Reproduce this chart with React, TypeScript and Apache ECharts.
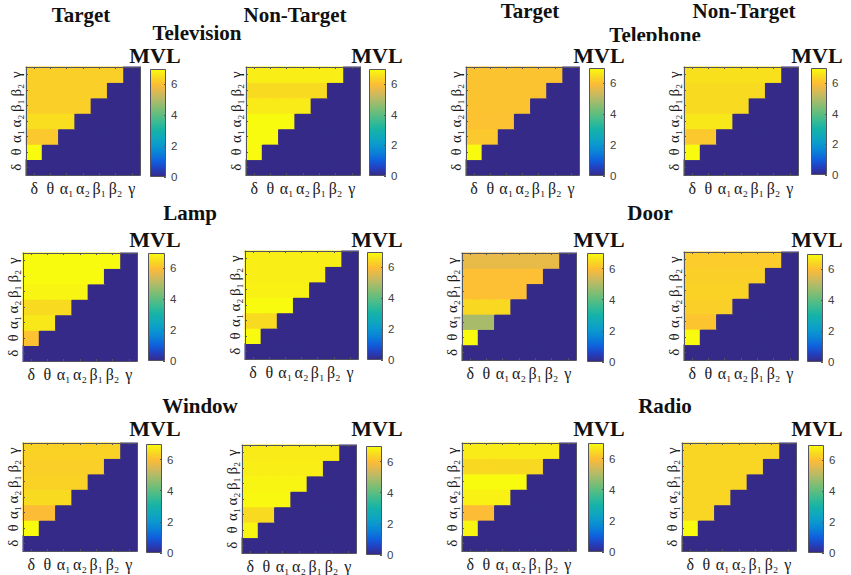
import React, { useEffect, useRef } from "react";
import * as echarts from "echarts";

const bands = ["δ", "θ", "α₁", "α₂", "β₁", "β₂", "γ"];
const barTicks = [0, 2, 4, 6];

// value of each row, bottom to top: θ α₁ α₂ β₁ β₂ γ
const televisionTarget = [7, 6.2, 6.55, 6.3, 6.3, 6.3];
const televisionNonTarget = [7, 7, 7, 6.75, 6.5, 6.8];
const telephoneTarget = [7, 6.2, 6.1, 6.12, 6.12, 6.12];
const telephoneNonTarget = [7, 6.2, 6.7, 6.5, 6.5, 6.6];
const lampTarget = [6.1, 6.7, 6.5, 6.9, 7, 7];
const lampNonTarget = [7, 6.5, 7, 6.85, 6.8, 6.8];
const doorTarget = [7, 4.9, 6.45, 6.05, 6.05, 5.7];
const doorNonTarget = [7, 6.15, 6.3, 6.35, 6.3, 6.25];
const windowTarget = [7, 6.0, 6.5, 6.35, 6.3, 6.35];
const windowNonTarget = [6.9, 6.5, 6.95, 6.9, 6.8, 6.75];
const radioTarget = [6.9, 6.0, 6.85, 7, 6.45, 6.75];
const radioNonTarget = [7, 6.4, 6.4, 6.4, 6.4, 6.4];

const panelRows = [
  televisionTarget, televisionNonTarget, telephoneTarget, telephoneNonTarget,
  lampTarget, lampNonTarget, doorTarget, doorNonTarget,
  windowTarget, windowNonTarget, radioTarget, radioNonTarget,
];

// colour map, evenly spaced from 0 to 7
const colorMap = [
  "#352a87", "#2340c0", "#0f60dd", "#0a80d8", "#0a98cf", "#0fa8bd", "#15b2a8", "#35ba95",
  "#5cbd80", "#85bd72", "#b0bb68", "#dab955", "#fdbc35", "#f8db20", "#f9fb0e",
];

// layout: [left, top, right, bottom] in page pixels
const heatBoxes = [
  [26, 67, 140, 175], [246, 67, 360, 175], [466, 67, 579, 175], [684, 67, 798, 175],
  [23, 253, 137, 361], [245, 251, 358, 359], [462, 253, 576, 360], [684, 252, 798, 360],
  [23, 443, 137, 551], [242, 445, 356, 553], [462, 443, 576, 551], [682, 443, 796, 551],
];
const barBoxes = [
  [150, 69, 166, 177], [369, 69, 386, 176], [589, 68, 605, 176], [811, 68, 827, 175],
  [148, 253, 165, 361], [367, 252, 383, 360], [587, 253, 604, 362], [807, 254, 823, 362],
  [146, 444, 162, 553], [366, 446, 382, 555], [588, 443, 604, 552], [808, 445, 824, 553],
];
// text, centre x, centre y, font size
const headings: [string, number, number, number][] = [
  ["Target", 81, 15, 21], ["Non-Target", 295, 15, 21], ["Target", 530, 11, 21], ["Non-Target", 744, 11, 21],
  ["Television", 197, 33, 21], ["Telephone", 655, 35, 21], ["Lamp", 190, 213, 21], ["Door", 650, 213, 21],
  ["Window", 200, 406, 21], ["Radio", 665, 406, 21],
  ["MVL", 155, 55, 22], ["MVL", 377, 55, 22], ["MVL", 599, 55, 22], ["MVL", 817, 55, 22],
  ["MVL", 155, 239, 22], ["MVL", 377, 239, 22], ["MVL", 599, 239, 22], ["MVL", 817, 239, 22],
  ["MVL", 155, 428, 22], ["MVL", 377, 428, 22], ["MVL", 599, 428, 22], ["MVL", 817, 428, 22],
];

const frameColor = "#55555f";
const serif = "'Liberation Serif', serif";

function cells(rows: number[]) {
  const out: number[][] = [];
  bands.forEach((_, y) => {
    bands.forEach((_, x) => {
      out.push([x, y, x < y ? rows[y - 1] : 0]);
    });
  });
  return out;
}

// heatmap cell a hair larger than its slot, so neighbours overlap and no seams show
function renderCell(_: any, api: any) {
  const [cx, cy] = api.coord([api.value(0), api.value(1)]);
  const [w, h] = api.size([1, 1]);
  return {
    type: "rect",
    shape: { x: cx - w / 2 - 0.5, y: cy - h / 2 - 0.5, width: w + 1, height: h + 1 },
    style: { fill: api.visual("color"), stroke: "none", lineWidth: 0 },
  };
}

function boxGrid(box: number[]) {
  return { left: box[0], top: box[1], width: box[2] - box[0], height: box[3] - box[1] };
}

function buildOption() {
  const grid: any[] = [];
  const xAxis: any[] = [];
  const yAxis: any[] = [];
  const series: any[] = [];
  const heatSeries: number[] = [];
  const line = { show: true, lineStyle: { color: frameColor, width: 1 } };
  const tick = { show: true, inside: true, length: 2, alignWithLabel: true, lineStyle: { color: frameColor } };
  const noSplit = { splitLine: { show: false }, splitArea: { show: false } };

  panelRows.forEach((rows, i) => {
    const gridIndex = grid.length;
    grid.push(boxGrid(heatBoxes[i]));
    const x = xAxis.length;
    const y = yAxis.length;
    xAxis.push({
      type: "category", data: bands, gridIndex, z: 5, axisLine: line, axisTick: tick, ...noSplit,
      axisLabel: { fontFamily: serif, fontSize: 16, color: "#1a1a1a", margin: 5, interval: 0 },
    });
    xAxis.push({
      type: "category", data: bands, gridIndex, position: "top", z: 5, axisLine: line, axisTick: tick, ...noSplit,
      axisLabel: { show: false },
    });
    yAxis.push({
      type: "category", data: bands, gridIndex, z: 5, axisLine: line, axisTick: tick, ...noSplit,
      axisLabel: { fontFamily: serif, fontSize: 15, color: "#1a1a1a", margin: 3, rotate: 90, interval: 0 },
    });
    yAxis.push({
      type: "category", data: bands, gridIndex, position: "right", z: 5, axisLine: line, axisTick: { show: false }, ...noSplit,
      axisLabel: { show: false },
    });
    heatSeries.push(series.length);
    series.push({
      type: "custom", xAxisIndex: x, yAxisIndex: y, data: cells(rows), renderItem: renderCell,
      encode: { x: 0, y: 1 }, silent: true,
    });

    // colour bar with its own value axis
    const barGrid = grid.length;
    grid.push(boxGrid(barBoxes[i]));
    const bx = xAxis.length;
    const by = yAxis.length;
    xAxis.push({ type: "category", data: ["MVL"], gridIndex: barGrid, show: false });
    yAxis.push({
      type: "value", gridIndex: barGrid, min: 0, max: 7, interval: barTicks[1] - barTicks[0], position: "right", z: 5,
      splitLine: { show: false },
      axisLine: { show: false },
      axisTick: { show: true, inside: true, length: 2, lineStyle: { color: frameColor } },
      axisLabel: {
        fontFamily: "'Liberation Sans', sans-serif", fontSize: 11.5, color: "#404040", margin: 5,
        showMaxLabel: false,
        formatter: (v: number) => (barTicks.includes(v) ? String(v) : ""),
      },
    });
    series.push({
      type: "bar", xAxisIndex: bx, yAxisIndex: by, data: [7], barWidth: "100%", silent: true,
      itemStyle: {
        borderColor: frameColor,
        borderWidth: 1,
        color: new echarts.graphic.LinearGradient(
          0, 1, 0, 0,
          colorMap.map((color, k) => ({ offset: k / (colorMap.length - 1), color })),
        ),
      },
    });
  });

  return {
    animation: false,
    backgroundColor: "#fff",
    title: headings.map(([text, left, top, fontSize]) => ({
      text, left, top, textAlign: "center", textVerticalAlign: "middle", padding: 0,
      textStyle: { fontFamily: serif, fontWeight: "bold", fontSize, color: "#111" },
    })),
    visualMap: {
      type: "continuous", show: false, min: 0, max: 7, dimension: 2, seriesIndex: heatSeries,
      inRange: { color: colorMap },
    },
    // the figure cuts the foot of "Telephone" off
    graphic: [{
      type: "rect", z: 100, silent: true,
      shape: { x: 628, y: 41, width: 80, height: 8 },
      style: { fill: "#fff" },
    }],
    grid, xAxis, yAxis, series,
  };
}

export default function App() {
  const ref = useRef<HTMLDivElement>(null);

  useEffect(() => {
    const chart = echarts.init(ref.current, null, { renderer: "svg" });
    chart.setOption(buildOption() as any);
    return () => chart.dispose();
  }, []);

  return <div ref={ref} style={{ position: "absolute", left: 0, top: 0, width: 851, height: 575 }} />;
}
